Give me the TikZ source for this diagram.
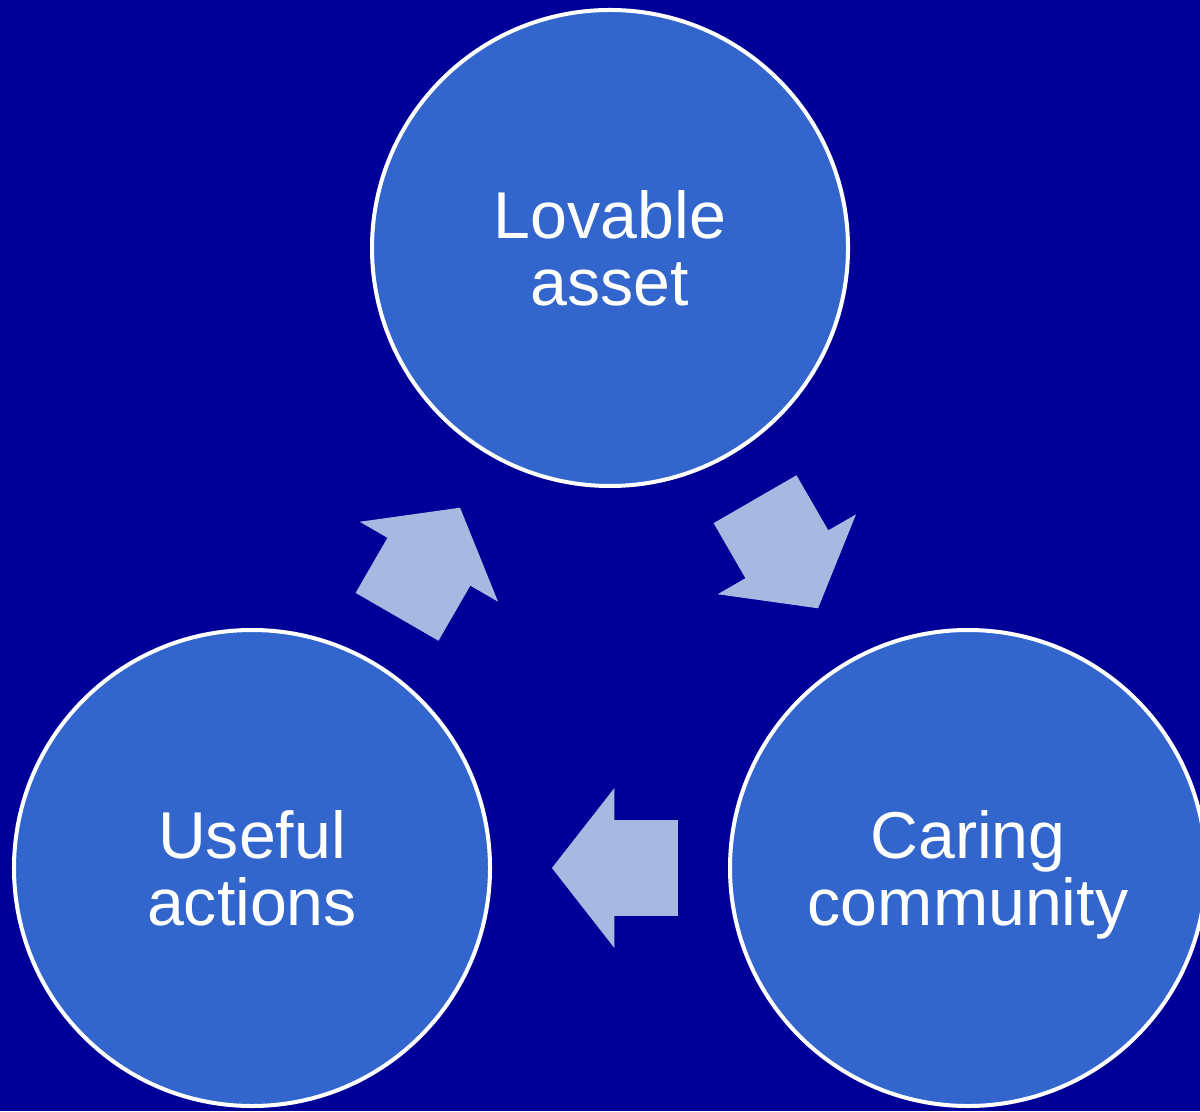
\documentclass[tikz,border=0pt]{standalone}
\usepackage{fontspec}
\setmainfont{Liberation Sans}
\usetikzlibrary{shapes.arrows}
\definecolor{slideblue}{HTML}{000099}
\definecolor{circleblue}{HTML}{3366CC}
\definecolor{arrowblue}{HTML}{A9B8E1}

\begin{document}
\begin{tikzpicture}[
    x=0.2mm, y=0.2mm,
    roundnode/.style={circle, draw=white, fill=circleblue, line width=0.8mm, minimum size=95.2mm, inner sep=0pt, text=white, align=center, font=\fontsize{37.7}{37.6}\selectfont, text depth=0pt},
    blockarrow/.style={single arrow, fill=arrowblue, draw=none, sloped, allow upside down, pos=0.4, minimum height=25.2mm, single arrow head extend=6.4mm, single arrow tip angle=104, single arrow head indent=0pt, inner xsep=0pt, inner ysep=9.5mm}
    ]
    \fill[slideblue] (0,0) rectangle (1200,1111);
    \useasboundingbox (0,0) rectangle (1200,1111);

    \node[roundnode]      (asset)      at (610,863)   {Lovable\\asset};
    \node[roundnode]      (community)  at (968,243)   {Caring\\community};
    \node[roundnode]      (actions)    at (252,243)   {Useful\\actions};

    \path (asset) -- node[blockarrow] (assettocommunity) {} (community);
    \path (community) -- node[blockarrow] (communitytoactions) {} (actions);
    \path (actions) -- node[blockarrow] (actionstoasset) {} (asset);
\end{tikzpicture}
\end{document}
